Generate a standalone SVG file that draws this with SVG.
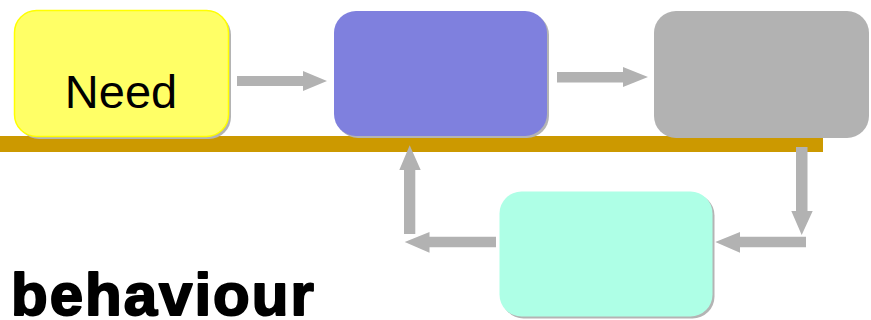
<svg xmlns="http://www.w3.org/2000/svg" width="871" height="320" viewBox="0 0 871 320">
  <style>
    .shadow { fill: #b4b4b4; }
    .arrow { fill: #b2b2b2; }
    .label { font-family: "Liberation Sans", Arial, sans-serif; fill: #000; }
    .title { font-weight: bold; stroke: #000; stroke-width: 2; stroke-linejoin: round; letter-spacing: 2px; }
  </style>
  <rect width="871" height="320" fill="#ffffff"/>

  <!-- ground bar -->
  <rect x="0" y="136" width="823" height="16" fill="#cc9900"/>

  <!-- nodes -->
  <g id="need">
    <rect class="shadow" x="17" y="13" width="214" height="126" rx="22"/>
    <rect x="14.5" y="10.5" width="214" height="126" rx="22" fill="#ffff66" stroke="#ffff00" stroke-width="1.5"/>
    <text class="label" x="121" y="108" font-size="47" text-anchor="middle">Need</text>
  </g>
  <g id="blue-step">
    <rect class="shadow" x="336" y="13" width="213" height="125" rx="22"/>
    <rect x="334" y="11" width="213" height="125" rx="22" fill="#7f80de"/>
  </g>
  <g id="grey-step">
    <rect x="654" y="11" width="215" height="127" rx="22" fill="#b2b2b2"/>
  </g>
  <g id="teal-step">
    <rect class="shadow" x="501.5" y="193.5" width="213" height="125" rx="22"/>
    <rect x="499.5" y="191.5" width="213" height="125" rx="22" fill="#aeffe6"/>
  </g>

  <!-- connectors -->
  <g id="connectors">
    <!-- Need -> blue -->
    <polygon class="arrow" points="237,76 303,76 303,71 327,81 303,91 303,86 237,86"/>
    <!-- blue -> grey -->
    <polygon class="arrow" points="557,72 623,72 623,67 648,77 623,87 623,82.5 557,82.5"/>
    <!-- grey down -->
    <polygon class="arrow" points="796,147 807.5,147 807.5,211 812.7,211 801.7,235 791.3,211 796,211"/>
    <!-- into teal from the right -->
    <polygon class="arrow" points="806,236.7 806,247.3 740,247.3 740,252.7 715.3,242 740,232 740,236.7"/>
    <!-- out of teal to the left -->
    <polygon class="arrow" points="496,236.7 496,247.3 429.5,247.3 429.5,252.7 404.7,242 429.5,232 429.5,236.7"/>
    <!-- up into blue -->
    <polygon class="arrow" points="404,234 415.3,234 415.3,170 420.7,170 409.7,145.3 399.3,170 404,170"/>
  </g>

  <text class="label title" x="11" y="315" font-size="60">behaviour</text>
</svg>
